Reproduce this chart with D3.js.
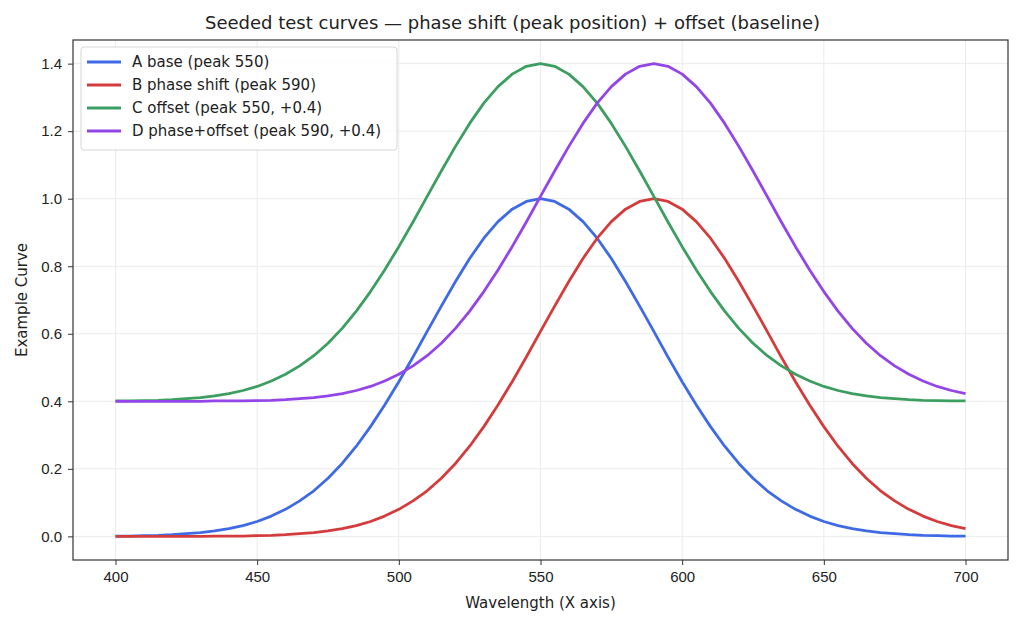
<!DOCTYPE html>
<html>
<head>
<meta charset="utf-8">
<script src="https://cdn.jsdelivr.net/npm/d3@7"></script>
<style>
  body { margin: 0; background: #fff; }
  svg { font-family: "DejaVu Sans", sans-serif; }
</style>
</head>
<body>
<svg id="chart" width="1024" height="626"></svg>
<script>
// sample positions (nm)
var wavelengths = [400,405,410,415,420,425,430,435,440,445,450,455,460,465,470,475,480,485,490,495,
    500,505,510,515,520,525,530,535,540,545,550,555,560,565,570,575,580,585,590,595,
    600,605,610,615,620,625,630,635,640,645,650,655,660,665,670,675,680,685,690,695,700];

// values
var curveA = [0.001,0.001,0.002,0.003,0.005,0.008,0.011,0.016,0.023,0.032,0.044,0.060,0.080,0.105,0.135,0.172,0.216,0.267,0.325,0.389,
    0.458,0.531,0.607,0.682,0.755,0.823,0.883,0.932,0.969,0.992,1.000,0.992,0.969,0.932,0.883,0.823,0.755,0.682,0.607,0.531,
    0.458,0.389,0.325,0.267,0.216,0.172,0.135,0.105,0.080,0.060,0.044,0.032,0.023,0.016,0.011,0.008,0.005,0.003,0.002,0.001,0.001];
var curveB = [0.000,0.000,0.000,0.000,0.000,0.000,0.000,0.001,0.001,0.001,0.002,0.003,0.005,0.008,0.011,0.016,0.023,0.032,0.044,0.060,
    0.080,0.105,0.135,0.172,0.216,0.267,0.325,0.389,0.458,0.531,0.607,0.682,0.755,0.823,0.883,0.932,0.969,0.992,1.000,0.992,
    0.969,0.932,0.883,0.823,0.755,0.682,0.607,0.531,0.458,0.389,0.325,0.267,0.216,0.172,0.135,0.105,0.080,0.060,0.044,0.032,0.023];
var curveC = [0.401,0.401,0.402,0.403,0.405,0.408,0.411,0.416,0.423,0.432,0.444,0.460,0.480,0.505,0.535,0.572,0.616,0.667,0.725,0.789,
    0.858,0.931,1.007,1.082,1.155,1.223,1.283,1.332,1.369,1.392,1.400,1.392,1.369,1.332,1.283,1.223,1.155,1.082,1.007,0.931,
    0.858,0.789,0.725,0.667,0.616,0.572,0.535,0.505,0.480,0.460,0.444,0.432,0.423,0.416,0.411,0.408,0.405,0.403,0.402,0.401,0.401];
var curveD = [0.400,0.400,0.400,0.400,0.400,0.400,0.400,0.401,0.401,0.401,0.402,0.403,0.405,0.408,0.411,0.416,0.423,0.432,0.444,0.460,
    0.480,0.505,0.535,0.572,0.616,0.667,0.725,0.789,0.858,0.931,1.007,1.082,1.155,1.223,1.283,1.332,1.369,1.392,1.400,1.392,
    1.369,1.332,1.283,1.223,1.155,1.082,1.007,0.931,0.858,0.789,0.725,0.667,0.616,0.572,0.535,0.505,0.480,0.460,0.444,0.432,0.423];

var seriesNames = ["A base (peak 550)", "B phase shift (peak 590)", "C offset (peak 550, +0.4)", "D phase+offset (peak 590, +0.4)"];
var seriesColors = ["#3f6ae6", "#d43c3c", "#3c9e60", "#9445e8"];
var xTicks = [400, 450, 500, 550, 600, 650, 700];
var yTicks = [0.0, 0.2, 0.4, 0.6, 0.8, 1.0, 1.2, 1.4];

var series = [curveA, curveB, curveC, curveD];

var svg = d3.select("#chart");
// plot frame in pixels (can't call it "top", that's window.top)
var pLeft = 73, pRight = 1008, pTop = 40, pBottom = 560;

var x = d3.scaleLinear().domain([385, 715]).range([pLeft, pRight]);
var y = d3.scaleLinear().domain([-0.07, 1.47]).range([pBottom, pTop]);

// grid
svg.append("g").selectAll("line")
    .data(xTicks).enter().append("line")
    .attr("x1", function(d){ return x(d); }).attr("x2", function(d){ return x(d); })
    .attr("y1", pTop).attr("y2", pBottom)
    .attr("stroke", "#ebebeb").attr("stroke-width", 1);
svg.append("g").selectAll("line")
    .data(yTicks).enter().append("line")
    .attr("x1", pLeft).attr("x2", pRight)
    .attr("y1", function(d){ return y(d); }).attr("y2", function(d){ return y(d); })
    .attr("stroke", "#ebebeb").attr("stroke-width", 1);

// curves
var line = d3.line()
    .x(function(d, i){ return x(wavelengths[i]); })
    .y(function(d){ return y(d); });

series.forEach(function(s, i){
    svg.append("path")
        .datum(s)
        .attr("d", line)
        .attr("fill", "none")
        .attr("stroke", seriesColors[i])
        .attr("stroke-width", 2.8)
        .attr("stroke-linejoin", "round");
});

// axes
var xAxis = svg.append("g")
    .attr("transform", "translate(0," + pBottom + ")")
    .call(d3.axisBottom(x).tickValues(xTicks).tickSize(5).tickPadding(6).tickFormat(d3.format("d")));
var yAxis = svg.append("g")
    .attr("transform", "translate(" + pLeft + ",0)")
    .call(d3.axisLeft(y).tickValues(yTicks).tickSize(5).tickPadding(6).tickFormat(d3.format(".1f")));
[xAxis, yAxis].forEach(function(a){
    a.select(".domain").remove();
    a.selectAll("text").attr("font-size", 15).attr("fill", "#222");
    a.selectAll("line").attr("stroke", "#333");
});

svg.append("rect")
    .attr("x", pLeft).attr("y", pTop)
    .attr("width", pRight - pLeft).attr("height", pBottom - pTop)
    .attr("fill", "none").attr("stroke", "#333").attr("stroke-width", 1.2);

// labels
svg.append("text")
    .attr("x", (pLeft + pRight) / 2 - 28).attr("y", 29)
    .attr("text-anchor", "middle").attr("font-size", 18).attr("fill", "#222")
    .text("Seeded test curves \u2014 phase shift (peak position) + offset (baseline)");
svg.append("text")
    .attr("x", (pLeft + pRight) / 2).attr("y", 608)
    .attr("text-anchor", "middle").attr("font-size", 15).attr("fill", "#222")
    .text("Wavelength (X axis)");
svg.append("text")
    .attr("transform", "translate(27," + ((pTop + pBottom) / 2) + ") rotate(-90)")
    .attr("text-anchor", "middle").attr("font-size", 15).attr("fill", "#222")
    .text("Example Curve");

// legend
var legend = svg.append("g").attr("transform", "translate(81,47)");
legend.append("rect")
    .attr("width", 316).attr("height", 103).attr("rx", 3)
    .attr("fill", "#fff").attr("fill-opacity", 0.85)
    .attr("stroke", "#d6d6d6");
var items = legend.selectAll("g.item")
    .data(seriesNames).enter().append("g")
    .attr("transform", function(d, i){ return "translate(0," + (15 + i * 23) + ")"; });
items.append("line")
    .attr("x1", 6).attr("x2", 40)
    .attr("stroke", function(d, i){ return seriesColors[i]; })
    .attr("stroke-width", 2.8);
items.append("text")
    .attr("x", 51).attr("dy", "0.35em")
    .attr("font-size", 15).attr("fill", "#222")
    .text(function(d){ return d; });
</script>
</body>
</html>
